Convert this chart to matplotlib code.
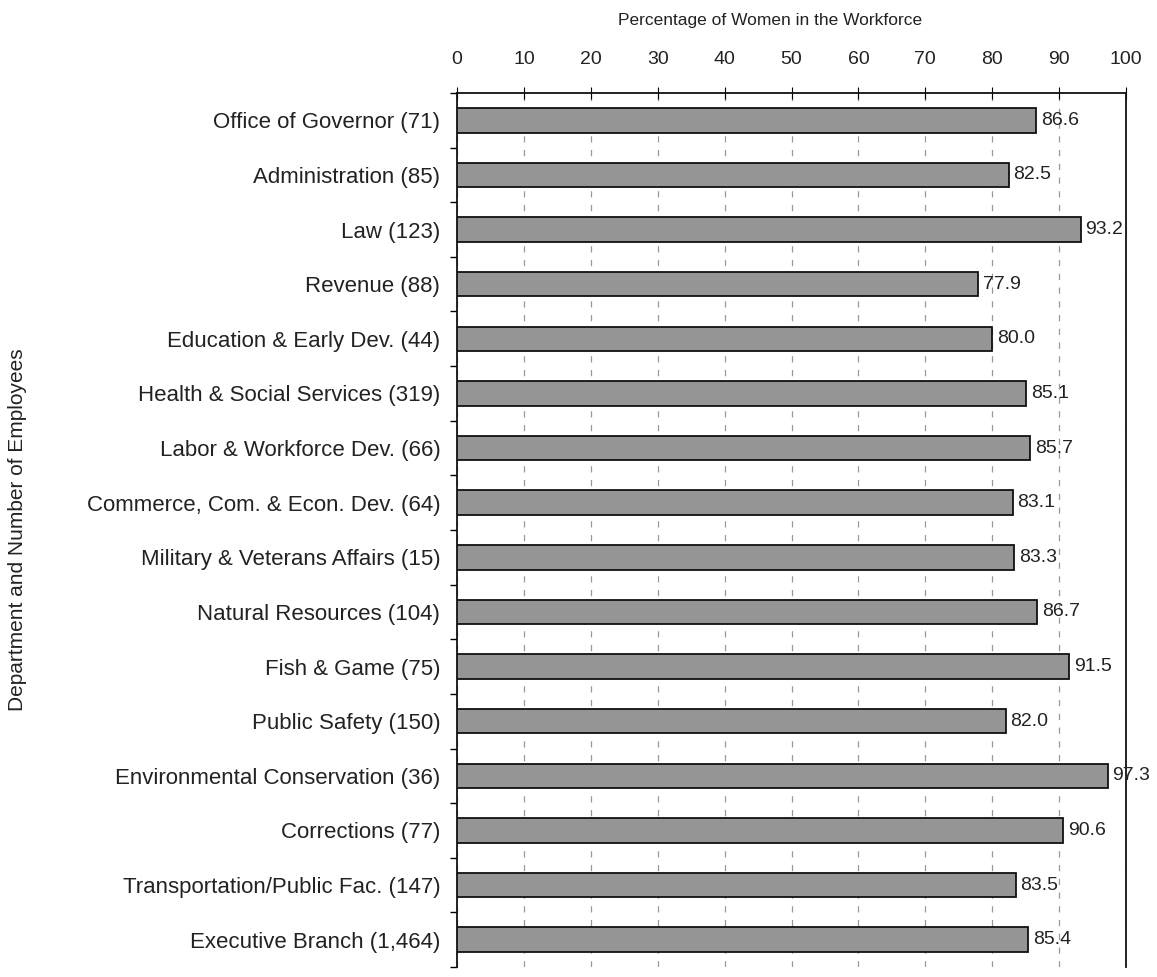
import matplotlib
matplotlib.use("Agg")
import matplotlib.pyplot as plt
import numpy as np

plt.rcParams['font.family'] = ['Liberation Sans', 'DejaVu Sans']

departments = [
    "Office of Governor (71)",
    "Administration (85)",
    "Law (123)",
    "Revenue (88)",
    "Education & Early Dev. (44)",
    "Health & Social Services (319)",
    "Labor & Workforce Dev. (66)",
    "Commerce, Com. & Econ. Dev. (64)",
    "Military & Veterans Affairs (15)",
    "Natural Resources (104)",
    "Fish & Game (75)",
    "Public Safety (150)",
    "Environmental Conservation (36)",
    "Corrections (77)",
    "Transportation/Public Fac. (147)",
    "Executive Branch (1,464)",
]
pct_women = [86.6, 82.5, 93.2, 77.9, 80.0, 85.1, 85.7, 83.1, 83.3, 86.7,
             91.5, 82.0, 97.3, 90.6, 83.5, 85.4]
x_ticks = [0, 10, 20, 30, 40, 50, 60, 70, 80, 90, 100]

W, H = 1157, 977
fig = plt.figure(figsize=(W / 100, H / 100), dpi=100)
ax = fig.add_axes([457 / W, 10 / H, (1126 - 457) / W, (967 - 93) / H])

y = np.arange(len(departments))
ax.barh(y, pct_women, height=0.45, color='#959595', edgecolor='#111111',
        linewidth=1.3, zorder=3)
for yi, v in zip(y, pct_women):
    ax.text(v + 0.7, yi, f"{v:.1f}", va='center', ha='left', fontsize=14,
            color='#222222', zorder=4)

ax.set_xlim(0, 100)
ax.set_ylim(len(departments) - 0.5, -0.5)
ax.set_yticks(y)
ax.set_yticklabels(departments, fontsize=16, color='#222222')
ax.set_yticks(np.arange(-0.5, len(departments), 1), minor=True)
ax.tick_params(axis='y', which='major', length=0, pad=12)
ax.tick_params(axis='y', which='minor', length=5, direction='out', width=1)

ax.xaxis.tick_top()
ax.set_xticks(x_ticks)
ax.set_xticklabels([str(t) for t in x_ticks], fontsize=14, color='#222222')
ax.tick_params(axis='x', which='major', length=8, direction='inout', pad=14)
ax.grid(axis='x', linestyle=(0, (5, 6)), color='#999999', linewidth=0.9, zorder=0)

ax.spines['bottom'].set_visible(False)
for s in ['top', 'left', 'right']:
    ax.spines[s].set_linewidth(1.3)
    ax.spines[s].set_color('#111111')

fig.text(770 / W, 1 - 20 / H, "Percentage of Women in the Workforce",
         ha='center', va='center', fontsize=12.5, color='#222222')
fig.text(18 / W, 1 - 530 / H, "Department and Number of Employees",
         ha='center', va='center', rotation=90, fontsize=15, color='#222222')

fig.savefig("out.png", dpi=100, facecolor='white')
